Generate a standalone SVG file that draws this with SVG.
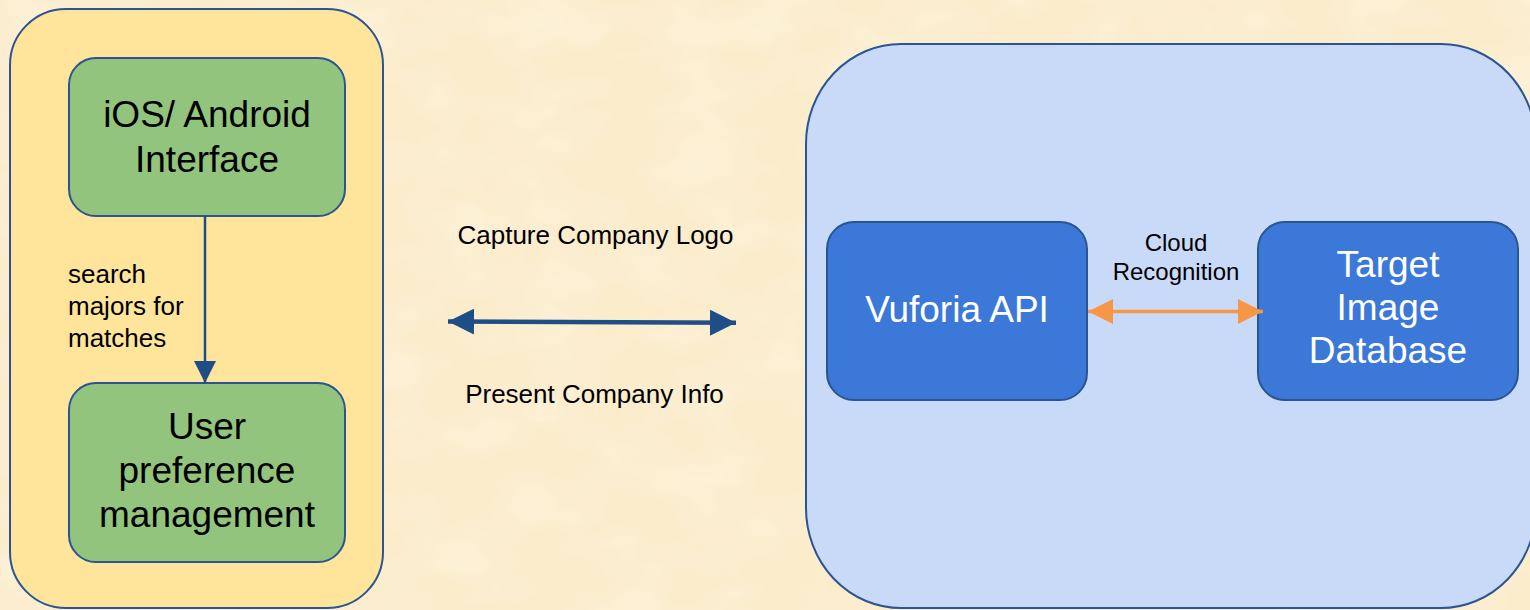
<svg xmlns="http://www.w3.org/2000/svg" width="1530" height="610" viewBox="0 0 1530 610">
<defs>
<style>
.t{font-family:"Liberation Sans",Arial,sans-serif;fill:#000}
.big{font-size:37px;text-anchor:middle}
.sm{font-size:26px}
.cl{font-size:24px;text-anchor:middle}
.w{fill:#fff}
.outline{stroke:#2a5592;stroke-width:2}
</style>
<filter id="paper" x="0" y="0" width="100%" height="100%">
<feTurbulence type="fractalNoise" baseFrequency="0.012 0.02" numOctaves="3" seed="4" result="n"/>
<feColorMatrix in="n" type="matrix" values="0 0 0 0 0.98  0 0 0 0 0.90  0 0 0 0 0.74  0 0 0 -1.2 0.75"/>
</filter>
<marker id="ab" viewBox="0 0 10 10" refX="10" refY="5" markerUnits="userSpaceOnUse" markerWidth="26" markerHeight="26" orient="auto-start-reverse">
<path d="M0,0 L10,5 L0,10 z" fill="#1f4e87"/>
</marker>
<marker id="ad" viewBox="0 0 10 10" refX="10" refY="5" markerUnits="userSpaceOnUse" markerWidth="22" markerHeight="24" orient="auto">
<path d="M0,0 L10,5 L0,10 z" fill="#1f4e87"/>
</marker>
<marker id="ao" viewBox="0 0 10 10" refX="10" refY="5" markerUnits="userSpaceOnUse" markerWidth="25" markerHeight="26" orient="auto-start-reverse">
<path d="M0,0 L10,5 L0,10 z" fill="#f79646"/>
</marker>
</defs>
<rect width="1530" height="610" fill="#fbeccb"/>
<rect width="1530" height="610" filter="url(#paper)"/>

<g id="mobile-container">
<rect class="outline" x="10" y="9" width="373" height="599" rx="56" ry="56" fill="#fee59b"/>
</g>
<g id="ios-android-interface">
<rect class="outline" x="69" y="58" width="276" height="158" rx="27" fill="#93c47d"/>
<text class="t big" x="207" y="127">iOS/ Android</text>
<text class="t big" x="207" y="172">Interface</text>
</g>
<g id="user-preference">
<rect class="outline" x="69" y="383" width="276" height="179" rx="27" fill="#93c47d"/>
<text class="t big" x="207" y="439">User</text>
<text class="t big" x="207" y="483">preference</text>
<text class="t big" x="207" y="527">management</text>
</g>

<g id="cloud-container">
<rect class="outline" x="806" y="44" width="730" height="564" rx="95" ry="100" fill="#c9daf8"/>
</g>
<g id="vuforia-api">
<rect class="outline" x="827" y="222" width="260" height="178" rx="27" fill="#3c78d8"/>
<text class="t big w" x="957" y="322">Vuforia API</text>
</g>
<g id="target-image-database">
<rect class="outline" x="1258" y="222" width="260" height="178" rx="27" fill="#3c78d8"/>
<text class="t big w" x="1388" y="277">Target</text>
<text class="t big w" x="1388" y="320">Image</text>
<text class="t big w" x="1388" y="363">Database</text>
</g>

<g id="connectors">
<line x1="205" y1="216" x2="205" y2="383" stroke="#1f4e87" stroke-width="2.5" marker-end="url(#ad)"/>
<line x1="448" y1="321.5" x2="736" y2="322.8" stroke="#1f4e87" stroke-width="4.5" marker-start="url(#ab)" marker-end="url(#ab)"/>
<line x1="1088" y1="311.5" x2="1263" y2="311.5" stroke="#f79646" stroke-width="3.5" marker-start="url(#ao)" marker-end="url(#ao)"/>
</g>

<g id="labels">
<text class="t sm" x="68" y="283">search</text>
<text class="t sm" x="68" y="315">majors for</text>
<text class="t sm" x="68" y="347">matches</text>
<text class="t sm" x="595.5" y="244" text-anchor="middle">Capture Company Logo</text>
<text class="t sm" x="594.5" y="403" text-anchor="middle">Present Company Info</text>
<text class="t cl" x="1176" y="251">Cloud</text>
<text class="t cl" x="1176" y="280">Recognition</text>
</g>
</svg>
